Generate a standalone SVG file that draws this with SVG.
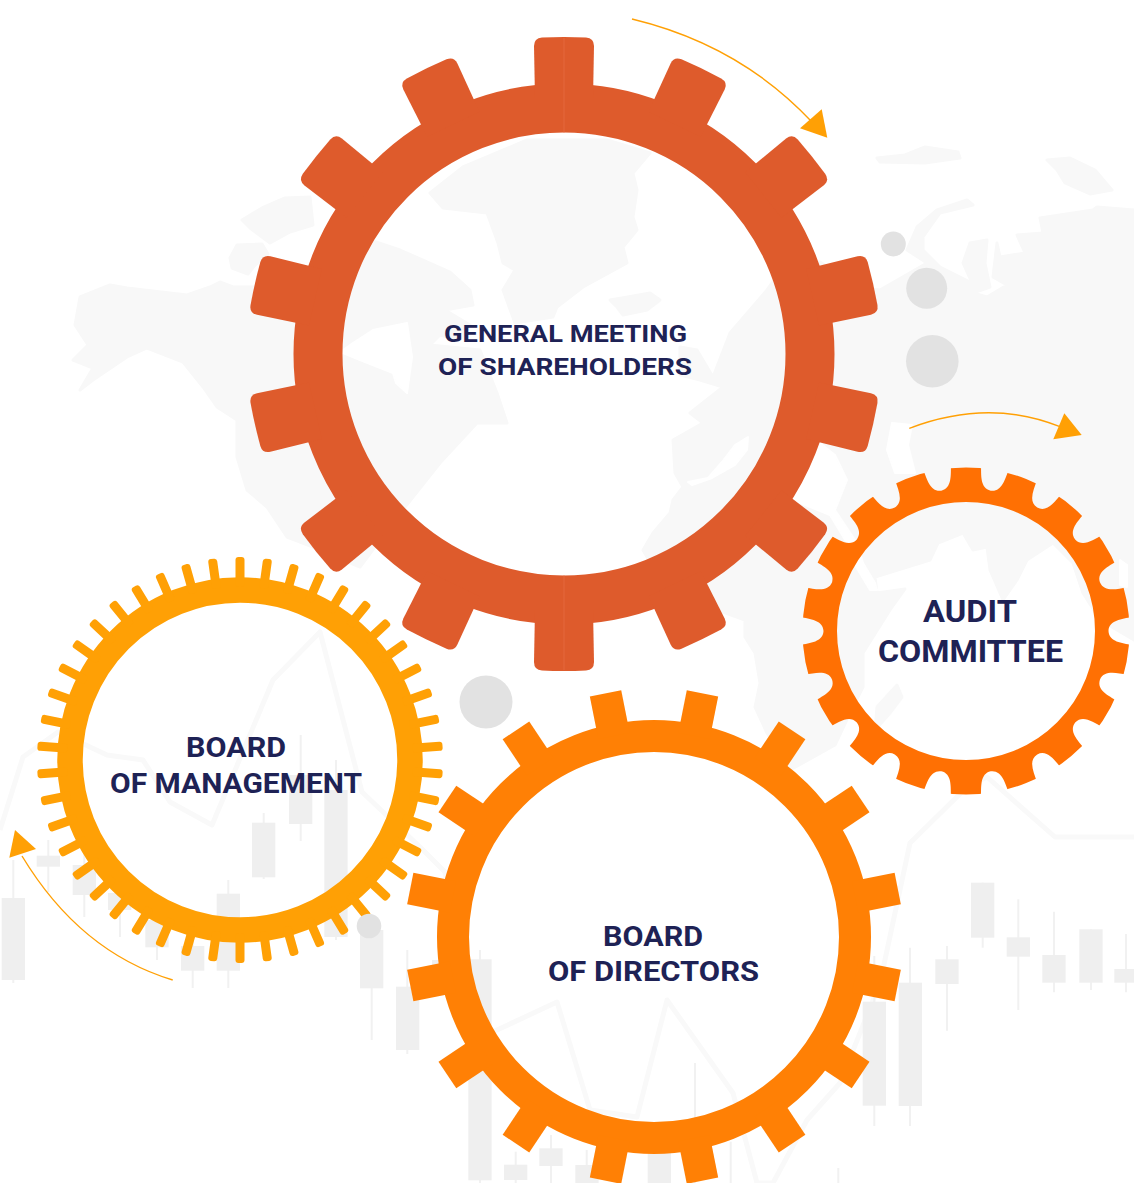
<svg xmlns="http://www.w3.org/2000/svg" xmlns:xlink="http://www.w3.org/1999/xlink" width="1134" height="1183" viewBox="0 0 1134 1183">
<style>
.land{fill:#f8f8f8;stroke:#f8f8f8;stroke-width:3;stroke-linejoin:round}
.sea{fill:#fff;stroke:#fff;stroke-width:2;stroke-linejoin:round}
.chart{fill:none;stroke:#f9f9f9;stroke-width:5;stroke-linejoin:round}
.candle rect{fill:#efefef}
.candle line{stroke:#f1f1f1;stroke-width:2}
.dot{fill:#e2e2e2}
.label{font-family:"Roboto","Inter","Liberation Sans",sans-serif;font-weight:700;fill:#1e2255;text-anchor:start}
.flow{fill:none;stroke:#ffa005;stroke-width:1.4}
.head{fill:#ffa005}
</style>
<defs>
<path id="tooth-general" d="M-29,-255 L-30,-308 Q-30,-316 -22,-316.5 Q0,-317.5 22,-316.5 Q30,-316 30,-308 L29,-255Z" fill="#de5b2c"/>
<path id="tooth-directors" d="M-16,-205 L-16,-248.5 L16,-248.5 L16,-205Z" fill="#ff8005"/>
<rect id="tooth-management" x="-4.5" y="-203" width="9" height="30" rx="3" fill="#ffa005"/>
<path id="notch" d="M-14,-166 C-12,-156 -11,-143 0,-142.5 C11,-143 12,-156 14,-166Z" fill="#000"/>
<mask id="audit-notches" maskUnits="userSpaceOnUse" x="-180" y="-180" width="360" height="360">
<rect x="-180" y="-180" width="360" height="360" fill="#fff"/>
<use href="#notch" transform="rotate(10)"/><use href="#notch" transform="rotate(30)"/><use href="#notch" transform="rotate(50)"/><use href="#notch" transform="rotate(70)"/><use href="#notch" transform="rotate(90)"/><use href="#notch" transform="rotate(110)"/><use href="#notch" transform="rotate(130)"/><use href="#notch" transform="rotate(150)"/><use href="#notch" transform="rotate(170)"/><use href="#notch" transform="rotate(190)"/><use href="#notch" transform="rotate(210)"/><use href="#notch" transform="rotate(230)"/><use href="#notch" transform="rotate(250)"/><use href="#notch" transform="rotate(270)"/><use href="#notch" transform="rotate(290)"/><use href="#notch" transform="rotate(310)"/><use href="#notch" transform="rotate(330)"/><use href="#notch" transform="rotate(350)"/>
</mask>
</defs>
<rect width="1134" height="1183" fill="#fff"/>
<g id="background">
<g id="map">
<path class="land" d="M80,297 L110,285 L127,288 L187,295 L210,287 L220,282 L233,287 L260,287 L300,300 L343,290 L360,270 L370,240 L400,250 L450,272 L470,290 L473,305 L445,310 L470,325 L460,340 L440,335 L430,345 L480,350 L497,393 L507,423 L477,423 L440,463 L413,497 L395,520 L360,567 L313,547 L287,537 L267,507 L247,490 L237,457 L237,420 L217,407 L203,387 L183,362 L147,348 L127,357 L93,380 L80,390 L93,368 L73,360 L88,345 L75,325 Z"/>
<path class="sea" d="M343,350 L353,343 L373,330 L407,323 L412,357 L407,393 L396,383 L393,373 L360,360 L343,353 Z"/>
<path class="land" d="M430,193 L443,208 L487,213 L498,243 L503,263 L515,270 L503,290 L515,323 L553,317 L557,307 L583,287 L627,263 L623,247 L637,230 L633,217 L637,190 L633,173 L650,153 L607,140 L527,140 L463,167 Z"/>
<path class="land" d="M610,300 L622,298 L650,293 L660,300 L647,310 L623,315 L617,307 Z"/>
<path class="land" d="M242,220 L262,208 L285,198 L310,197 L313,225 L290,232 L270,243 L250,228 Z M230,258 L237,245 L262,244 L268,254 L255,265 L248,274 L232,268 Z"/>
<path class="land" d="M877,158 L905,155 L925,147 L958,152 L960,158 L925,163 L880,162 Z M1047,160 L1070,158 L1095,170 L1112,190 L1090,194 L1065,183 L1057,170 Z"/>
<path class="land" d="M643,550 L653,533 L670,513 L673,500 L683,487 L675,473 L673,440 L703,423 L690,413 L723,387 L700,380 L680,375 L680,347 L697,350 L713,377 L730,333 L767,290 L785,265 L820,262 L860,288 L880,290 L927,263 L907,250 L917,227 L937,210 L967,200 L973,205 L940,213 L923,237 L923,250 L940,267 L972,283 L963,263 L970,243 L987,240 L985,263 L990,287 L973,293 L987,297 L1007,285 L993,277 L997,243 L1000,257 L1025,253 L1017,235 L1043,233 L1040,218 L1093,210 L1097,207 L1134,210 L1134,640 L1100,620 L1083,593 L1073,563 L1053,543 L1027,560 L1017,580 L1003,600 L990,570 L987,547 L973,550 L963,533 L938,543 L930,560 L875,577 L877,593 L905,589 L890,610 L863,653 L863,687 L850,713 L835,745 L790,770 L767,733 L755,707 L760,683 L755,653 L745,637 L745,620 L723,612 L690,600 L660,580 Z"/>
<path class="sea" d="M688,482 L708,478 L722,462 L735,445 L748,437 L747,450 L735,465 L712,478 L692,485 Z"/>
<path class="sea" d="M820,443 L835,455 L847,480 L835,510 L855,540 L850,548 L830,515 L793,500 L805,470 Z"/>
<path class="sea" d="M857,543 L863,563 L875,583 L877,590 L870,590 L855,565 Z"/>
<path class="sea" d="M892,423 L912,425 L908,445 L915,473 L895,473 L887,450 Z"/>
<path class="sea" d="M1120,560 L1127,565 L1127,587 L1120,585 Z"/>
<path class="land" d="M877,707 L897,685 L902,697 L890,713 L875,730 Z"/>
</g>
<polyline class="chart" points="0,830 23,757 58,732 107,755 143,760 170,802 212,825 273,680 320,632 362,792 420,847 445,872 470,1040 497,1030 557,1002 590,1110 637,1117 667,1000 733,1093 757,1183 773,1183 807,1120 840,1083 880,983 910,843 967,787 987,777 1055,837 1134,837"/>
<g class="candle">
<line x1="13.3" y1="860" x2="13.3" y2="983"/><rect x="1.7" y="898" width="23.3" height="82"/>
<line x1="48.3" y1="840" x2="48.3" y2="892"/><rect x="36.7" y="855.7" width="23.3" height="11"/>
<line x1="84.3" y1="850" x2="84.3" y2="917"/><rect x="72.7" y="865" width="23.3" height="30"/>
<line x1="120" y1="880" x2="120" y2="937"/><rect x="108" y="893" width="23.3" height="17"/>
<line x1="157" y1="905" x2="157" y2="960"/><rect x="145.3" y="920" width="23.3" height="27.3"/>
<line x1="192.7" y1="930" x2="192.7" y2="988"/><rect x="181" y="946" width="23.3" height="24.7"/>
<line x1="228.3" y1="880" x2="228.3" y2="988"/><rect x="216.7" y="893.7" width="23.3" height="77"/>
<line x1="263.7" y1="813" x2="263.7" y2="879"/><rect x="252" y="822.7" width="23.3" height="54.6"/>
<line x1="300.7" y1="735" x2="300.7" y2="841"/><rect x="289" y="775" width="23.3" height="49"/>
<line x1="336" y1="760" x2="336" y2="940"/><rect x="324.3" y="790" width="23.3" height="147"/>
<line x1="371.7" y1="915" x2="371.7" y2="1040"/><rect x="360" y="930" width="23.3" height="58.3"/>
<line x1="407.3" y1="950" x2="407.3" y2="1054"/><rect x="396" y="986.7" width="23.3" height="63.3"/>
<rect x="432" y="960" width="23.3" height="30"/>
<line x1="480" y1="950" x2="480" y2="1183"/><rect x="468.3" y="959.3" width="23.3" height="221"/>
<line x1="515.7" y1="1151.7" x2="515.7" y2="1183"/><rect x="504" y="1164.7" width="23.3" height="15.3"/>
<line x1="551" y1="1135" x2="551" y2="1183"/><rect x="539.3" y="1148.3" width="23.3" height="17.7"/>
<line x1="586.7" y1="1150" x2="586.7" y2="1183"/><rect x="575.3" y="1165" width="23.3" height="18"/>
<rect x="647.7" y="1150" width="23.3" height="33"/>
<line x1="695" y1="1063" x2="695" y2="1183"/>
<line x1="730.7" y1="1141.7" x2="730.7" y2="1183"/>
<line x1="838.3" y1="1168" x2="838.3" y2="1183"/>
<line x1="874.3" y1="956" x2="874.3" y2="1126"/><rect x="862.7" y="1001.7" width="23.3" height="104"/>
<line x1="910" y1="947.7" x2="910" y2="1126"/><rect x="898.7" y="982.7" width="23.3" height="123.3"/>
<line x1="947" y1="946" x2="947" y2="1030.7"/><rect x="935.3" y="959.3" width="23.3" height="24.7"/>
<line x1="982.7" y1="882.7" x2="982.7" y2="947.7"/><rect x="971" y="882.7" width="23.3" height="55"/>
<line x1="1018.3" y1="899.3" x2="1018.3" y2="1010"/><rect x="1006.7" y="937.3" width="23.3" height="19.4"/>
<line x1="1054" y1="911.7" x2="1054" y2="992.3"/><rect x="1042.3" y="955" width="23.3" height="27.7"/>
<line x1="1091" y1="929.3" x2="1091" y2="990"/><rect x="1079.3" y="929.3" width="23.3" height="53.4"/>
<line x1="1126" y1="934" x2="1126" y2="992.3"/><rect x="1114.3" y="969" width="23.3" height="13.7"/>
</g>
</g>
<g id="connectors">
<path class="flow" d="M632,19 Q740,45 812,122"/>
<polygon class="head" points="800,128.3 821.7,109.3 827.3,137.7"/>
<path class="flow" d="M909.3,428.3 Q989,398 1060,426.7"/>
<polygon class="head" points="1064.3,413.3 1081.7,435 1053.3,439.3"/>
<path class="flow" d="M172.7,980 Q80,952 22,856"/>
<polygon class="head" points="15,830 36,849 9.3,857.7"/>
</g>
<g id="gear-general" transform="translate(564 354)">
<circle r="246" fill="none" stroke="#de5b2c" stroke-width="49"/>
<use href="#tooth-general"/><use href="#tooth-general" transform="rotate(25.714)"/><use href="#tooth-general" transform="rotate(51.429)"/><use href="#tooth-general" transform="rotate(77.143)"/><use href="#tooth-general" transform="rotate(102.857)"/><use href="#tooth-general" transform="rotate(128.571)"/><use href="#tooth-general" transform="rotate(154.286)"/><use href="#tooth-general" transform="rotate(180)"/><use href="#tooth-general" transform="rotate(205.714)"/><use href="#tooth-general" transform="rotate(231.429)"/><use href="#tooth-general" transform="rotate(257.143)"/><use href="#tooth-general" transform="rotate(282.857)"/><use href="#tooth-general" transform="rotate(308.571)"/><use href="#tooth-general" transform="rotate(334.286)"/>
<path d="M0,-316 V-221 M0,221 V316" stroke="#e8744c" stroke-width="0.6" fill="none"/>
<text class="label" font-size="24.5" x="-120" y="-11.8" textLength="243" lengthAdjust="spacingAndGlyphs">GENERAL MEETING</text>
<text class="label" font-size="24.5" x="-126" y="21" textLength="254" lengthAdjust="spacingAndGlyphs">OF SHAREHOLDERS</text>
</g>
<g id="gear-audit" transform="translate(966 631)">
<circle r="146.25" fill="none" stroke="#ff7003" stroke-width="34.5" mask="url(#audit-notches)"/>
<text class="label" font-size="31" x="-43" y="-9.3" textLength="94" lengthAdjust="spacingAndGlyphs">AUDIT</text>
<text class="label" font-size="31" x="-88" y="30.7" textLength="185" lengthAdjust="spacingAndGlyphs">COMMITTEE</text>
</g>
<g id="gear-directors" transform="translate(654 937)">
<circle r="201" fill="none" stroke="#ff8005" stroke-width="32"/>
<use href="#tooth-directors" transform="rotate(11.25)"/><use href="#tooth-directors" transform="rotate(33.75)"/><use href="#tooth-directors" transform="rotate(56.25)"/><use href="#tooth-directors" transform="rotate(78.75)"/><use href="#tooth-directors" transform="rotate(101.25)"/><use href="#tooth-directors" transform="rotate(123.75)"/><use href="#tooth-directors" transform="rotate(146.25)"/><use href="#tooth-directors" transform="rotate(168.75)"/><use href="#tooth-directors" transform="rotate(191.25)"/><use href="#tooth-directors" transform="rotate(213.75)"/><use href="#tooth-directors" transform="rotate(236.25)"/><use href="#tooth-directors" transform="rotate(258.75)"/><use href="#tooth-directors" transform="rotate(281.25)"/><use href="#tooth-directors" transform="rotate(303.75)"/><use href="#tooth-directors" transform="rotate(326.25)"/><use href="#tooth-directors" transform="rotate(348.75)"/>
<text class="label" font-size="27" x="-51" y="9" textLength="100" lengthAdjust="spacingAndGlyphs">BOARD</text>
<text class="label" font-size="27" x="-106" y="43.7" textLength="211" lengthAdjust="spacingAndGlyphs">OF DIRECTORS</text>
</g>
<g id="gear-management" transform="translate(240 760)">
<circle r="170" fill="none" stroke="#ffa005" stroke-width="25.5"/>
<use href="#tooth-management"/><use href="#tooth-management" transform="rotate(7.826)"/><use href="#tooth-management" transform="rotate(15.652)"/><use href="#tooth-management" transform="rotate(23.478)"/><use href="#tooth-management" transform="rotate(31.304)"/><use href="#tooth-management" transform="rotate(39.13)"/><use href="#tooth-management" transform="rotate(46.957)"/><use href="#tooth-management" transform="rotate(54.783)"/><use href="#tooth-management" transform="rotate(62.609)"/><use href="#tooth-management" transform="rotate(70.435)"/><use href="#tooth-management" transform="rotate(78.261)"/><use href="#tooth-management" transform="rotate(86.087)"/><use href="#tooth-management" transform="rotate(93.913)"/><use href="#tooth-management" transform="rotate(101.739)"/><use href="#tooth-management" transform="rotate(109.565)"/><use href="#tooth-management" transform="rotate(117.391)"/><use href="#tooth-management" transform="rotate(125.217)"/><use href="#tooth-management" transform="rotate(133.043)"/><use href="#tooth-management" transform="rotate(140.87)"/><use href="#tooth-management" transform="rotate(148.696)"/><use href="#tooth-management" transform="rotate(156.522)"/><use href="#tooth-management" transform="rotate(164.348)"/><use href="#tooth-management" transform="rotate(172.174)"/><use href="#tooth-management" transform="rotate(180)"/><use href="#tooth-management" transform="rotate(187.826)"/><use href="#tooth-management" transform="rotate(195.652)"/><use href="#tooth-management" transform="rotate(203.478)"/><use href="#tooth-management" transform="rotate(211.304)"/><use href="#tooth-management" transform="rotate(219.13)"/><use href="#tooth-management" transform="rotate(226.957)"/><use href="#tooth-management" transform="rotate(234.783)"/><use href="#tooth-management" transform="rotate(242.609)"/><use href="#tooth-management" transform="rotate(250.435)"/><use href="#tooth-management" transform="rotate(258.261)"/><use href="#tooth-management" transform="rotate(266.087)"/><use href="#tooth-management" transform="rotate(273.913)"/><use href="#tooth-management" transform="rotate(281.739)"/><use href="#tooth-management" transform="rotate(289.565)"/><use href="#tooth-management" transform="rotate(297.391)"/><use href="#tooth-management" transform="rotate(305.217)"/><use href="#tooth-management" transform="rotate(313.043)"/><use href="#tooth-management" transform="rotate(320.87)"/><use href="#tooth-management" transform="rotate(328.696)"/><use href="#tooth-management" transform="rotate(336.522)"/><use href="#tooth-management" transform="rotate(344.348)"/><use href="#tooth-management" transform="rotate(352.174)"/>
<text class="label" font-size="27" x="-54" y="-2.7" textLength="100" lengthAdjust="spacingAndGlyphs">BOARD</text>
<text class="label" font-size="27" x="-130" y="32.6" textLength="252" lengthAdjust="spacingAndGlyphs">OF MANAGEMENT</text>
</g>
<g id="dots">
<circle class="dot" cx="893.3" cy="244" r="12.5"/>
<circle class="dot" cx="926.7" cy="288.3" r="20.5"/>
<circle class="dot" cx="932.3" cy="361.3" r="26.3"/>
<circle class="dot" cx="486" cy="702" r="26.5"/>
<circle class="dot" cx="369" cy="926" r="12.3"/>
</g>
</svg>
